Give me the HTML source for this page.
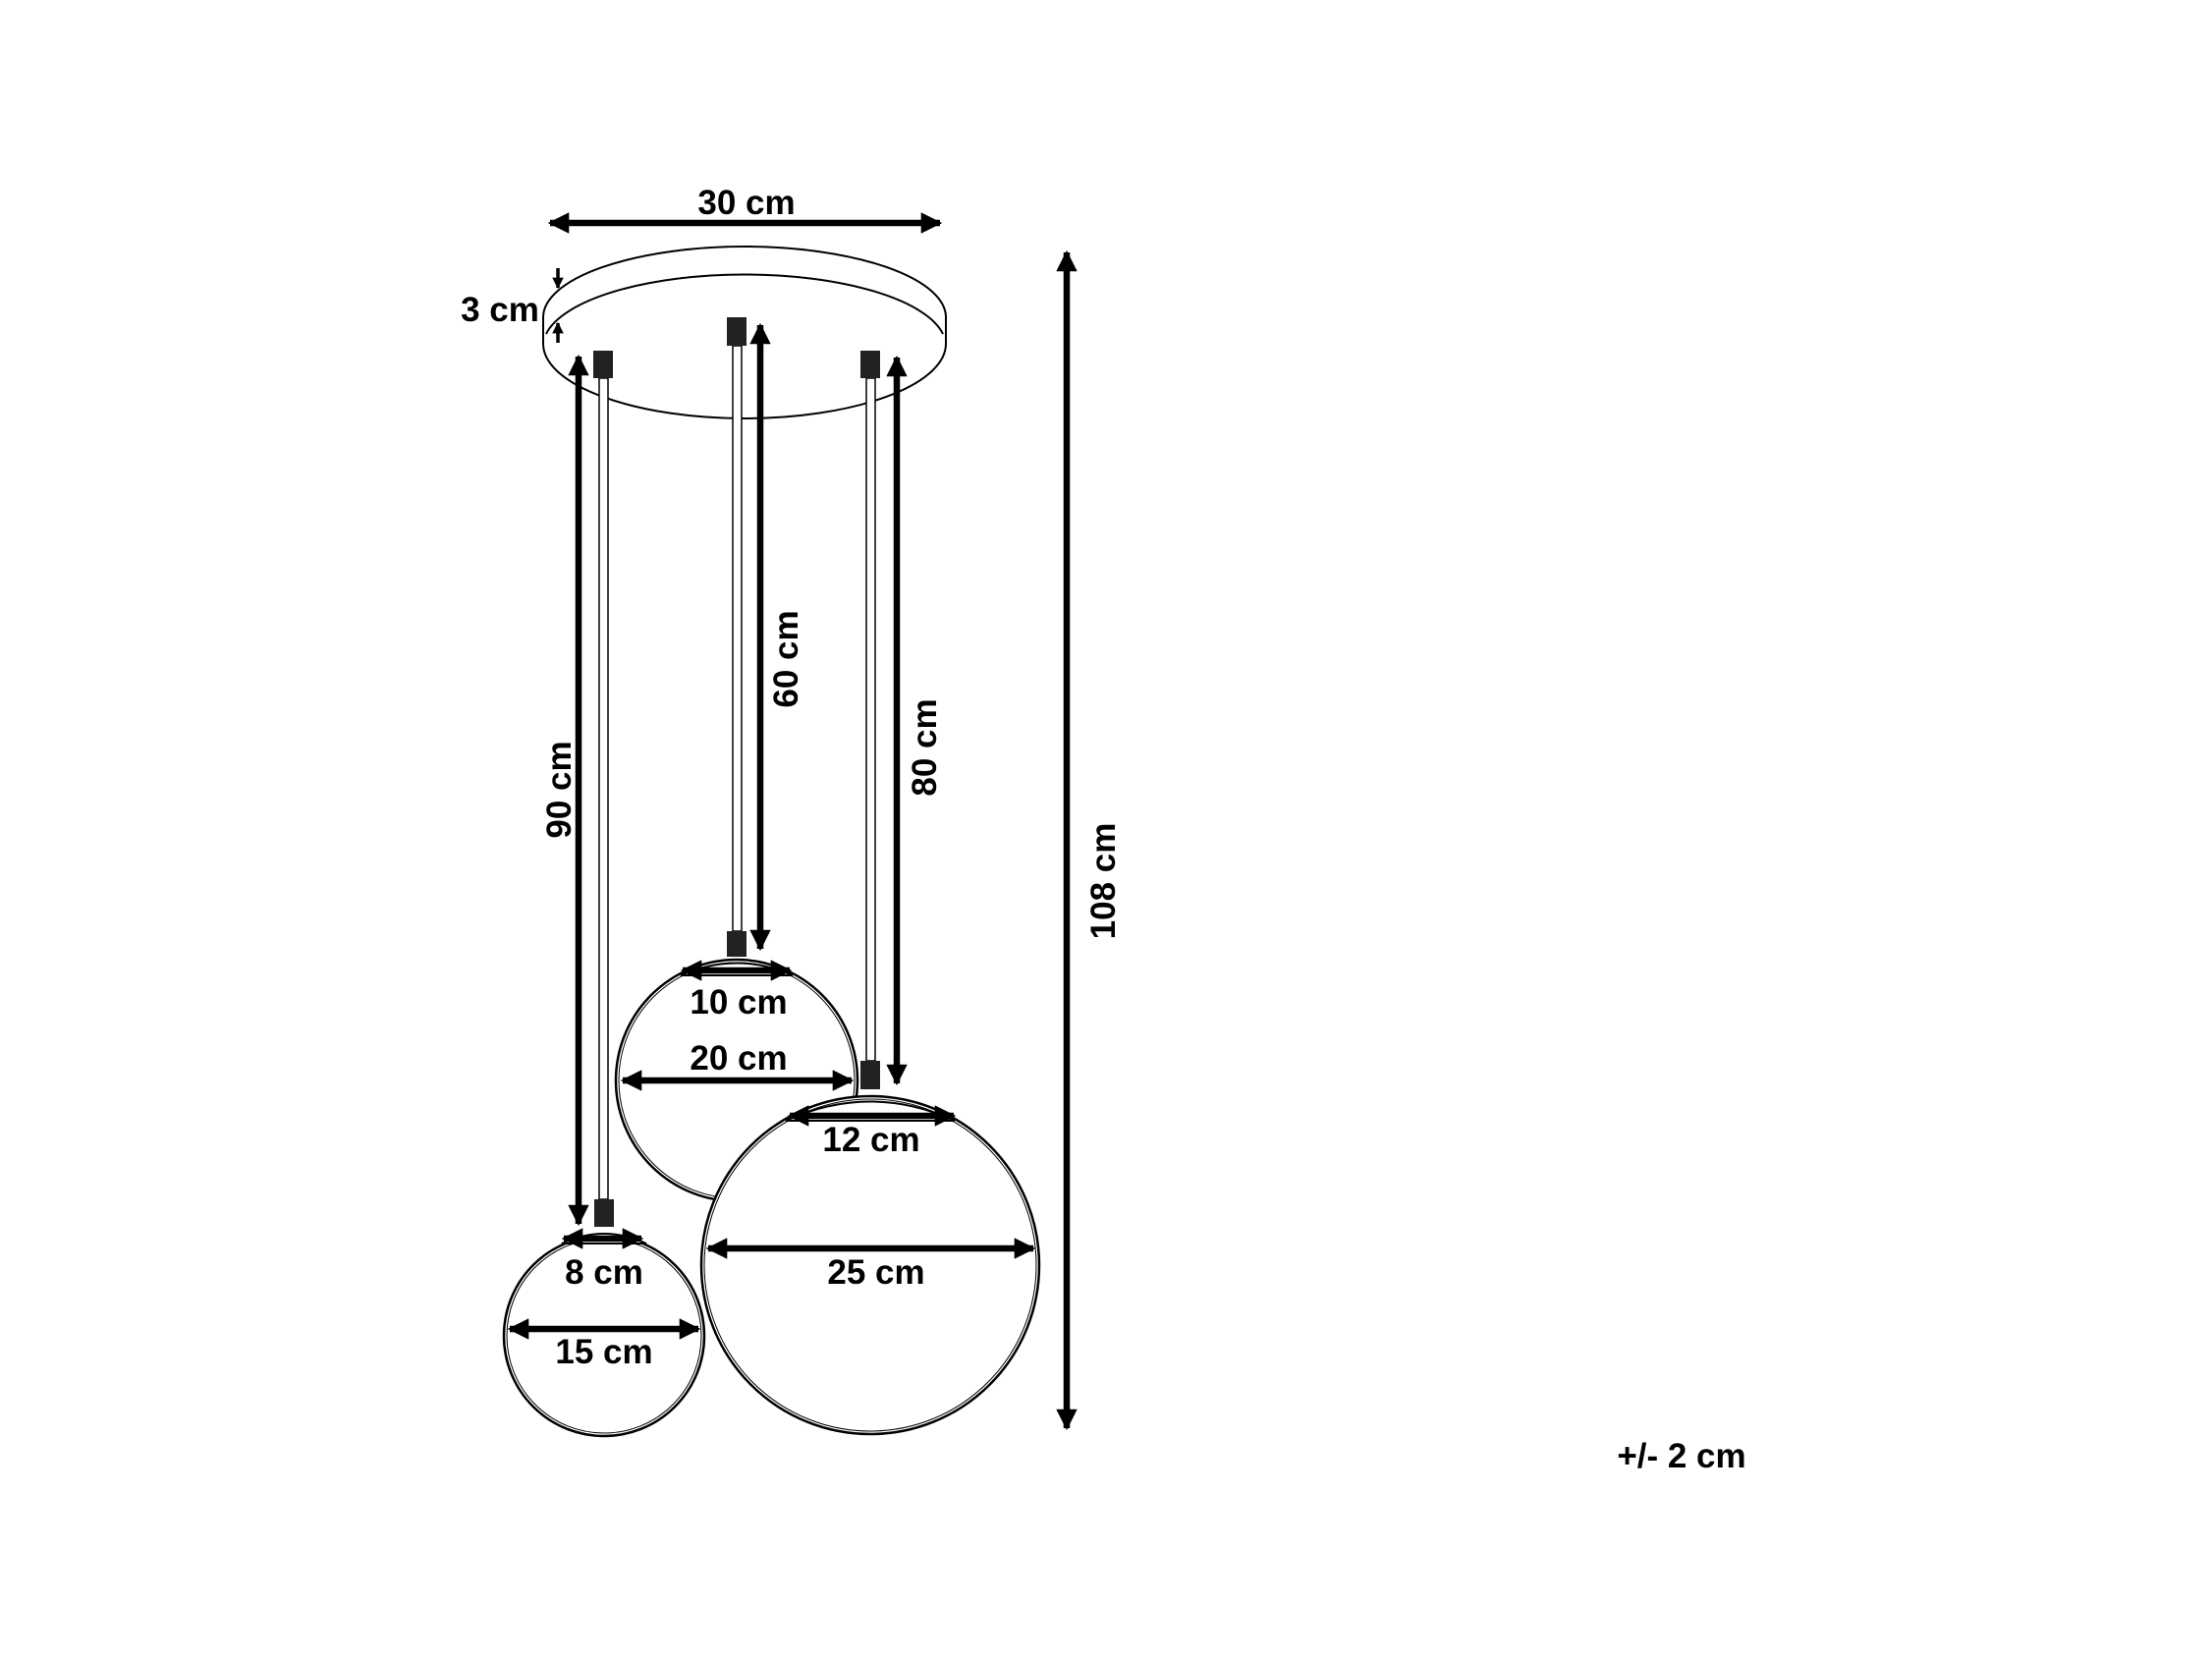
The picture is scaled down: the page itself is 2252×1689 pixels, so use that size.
<!DOCTYPE html>
<html><head><meta charset="utf-8"><style>html,body{margin:0;padding:0;background:#fff}svg{display:block}text{font-family:"Liberation Sans",sans-serif;font-weight:bold;font-size:35px;fill:#000}</style></head><body>
<svg width="2252" height="1689" viewBox="0 0 2252 1689" xmlns="http://www.w3.org/2000/svg">
<defs>
<marker id="a" viewBox="0 0 10 10" refX="9" refY="5" markerWidth="3.3" markerHeight="3.3" orient="auto-start-reverse" markerUnits="strokeWidth"><path d="M0,0 L10,5 L0,10 z" fill="#000"/></marker>
</defs>
<g fill="none" stroke="#000">
<!-- canopy -->
<path d="M553,323 A205,72 0 0 1 963,323 L963,350 A205,76 0 0 1 553,350 Z" fill="#fff" stroke-width="2"/>
<path d="M556,340 A205,73 0 0 1 960,340" stroke-width="2"/>
<!-- middle sphere -->
<circle cx="750" cy="1100" r="123" fill="#fff" stroke-width="2.5"/>
<circle cx="750" cy="1100" r="120" stroke-width="1"/>
<!-- large sphere -->
<circle cx="886" cy="1288" r="172" fill="#fff" stroke-width="2.5"/>
<circle cx="886" cy="1288" r="169" stroke-width="1"/>
<!-- small sphere -->
<circle cx="615" cy="1360" r="102" fill="#fff" stroke-width="2.5"/>
<circle cx="615" cy="1360" r="99" stroke-width="1"/>
</g>
<!-- caps -->
<g fill="#fff" stroke="#000" stroke-width="2">
<path d="M572,1266 Q615,1246 658,1266 Z"/>
<path d="M693,993 Q750,968 807,993 Z"/>
<path d="M800,1141 Q886,1102 972,1141 Z"/>
</g>
<!-- cables -->
<g fill="#fff" stroke="#000" stroke-width="1.5">
<rect x="610" y="385" width="9" height="836"/>
<rect x="746" y="352" width="9" height="596"/>
<rect x="882" y="385" width="9" height="695"/>
</g>
<!-- connectors -->
<g fill="#222">
<rect x="604" y="357" width="20" height="28"/>
<rect x="740" y="323" width="20" height="29"/>
<rect x="876" y="357" width="20" height="28"/>
<rect x="605" y="1221" width="20" height="28"/>
<rect x="740" y="948" width="20" height="26"/>
<rect x="876" y="1080" width="20" height="29"/>
</g>
<!-- dimension arrows -->
<g stroke="#000" stroke-width="6.5" marker-start="url(#a)" marker-end="url(#a)">
<line x1="560" y1="227" x2="957" y2="227"/>
<line x1="589" y1="363" x2="589" y2="1246"/>
<line x1="774" y1="331" x2="774" y2="966"/>
<line x1="913" y1="364" x2="913" y2="1103"/>
<line x1="1086" y1="257" x2="1086" y2="1454"/>
<line x1="695" y1="988" x2="804" y2="988"/>
<line x1="634" y1="1100" x2="867" y2="1100"/>
<line x1="804" y1="1136" x2="971" y2="1136"/>
<line x1="721" y1="1271" x2="1052" y2="1271"/>
<line x1="574" y1="1261" x2="653" y2="1261"/>
<line x1="519" y1="1353" x2="711" y2="1353"/>
</g>
<g stroke="#000" stroke-width="3.5" marker-end="url(#a)">
<line x1="568" y1="273" x2="568" y2="293"/>
<line x1="568" y1="349" x2="568" y2="329"/>
</g>
<!-- labels -->
<text x="760" y="218" text-anchor="middle">30 cm</text>
<text x="509" y="327" text-anchor="middle">3 cm</text>
<text x="752" y="1032" text-anchor="middle">10 cm</text>
<text x="752" y="1089" text-anchor="middle">20 cm</text>
<text x="887" y="1172" text-anchor="middle">12 cm</text>
<text x="892" y="1307" text-anchor="middle">25 cm</text>
<text x="615" y="1307" text-anchor="middle">8 cm</text>
<text x="615" y="1388" text-anchor="middle">15 cm</text>
<text x="1712" y="1494" text-anchor="middle">+/- 2 cm</text>
<text transform="translate(581,804) rotate(-90)" text-anchor="middle">90 cm</text>
<text transform="translate(812,671) rotate(-90)" text-anchor="middle">60 cm</text>
<text transform="translate(953,761) rotate(-90)" text-anchor="middle">80 cm</text>
<text transform="translate(1135,897) rotate(-90)" text-anchor="middle">108 cm</text>
</svg>
</body></html>
